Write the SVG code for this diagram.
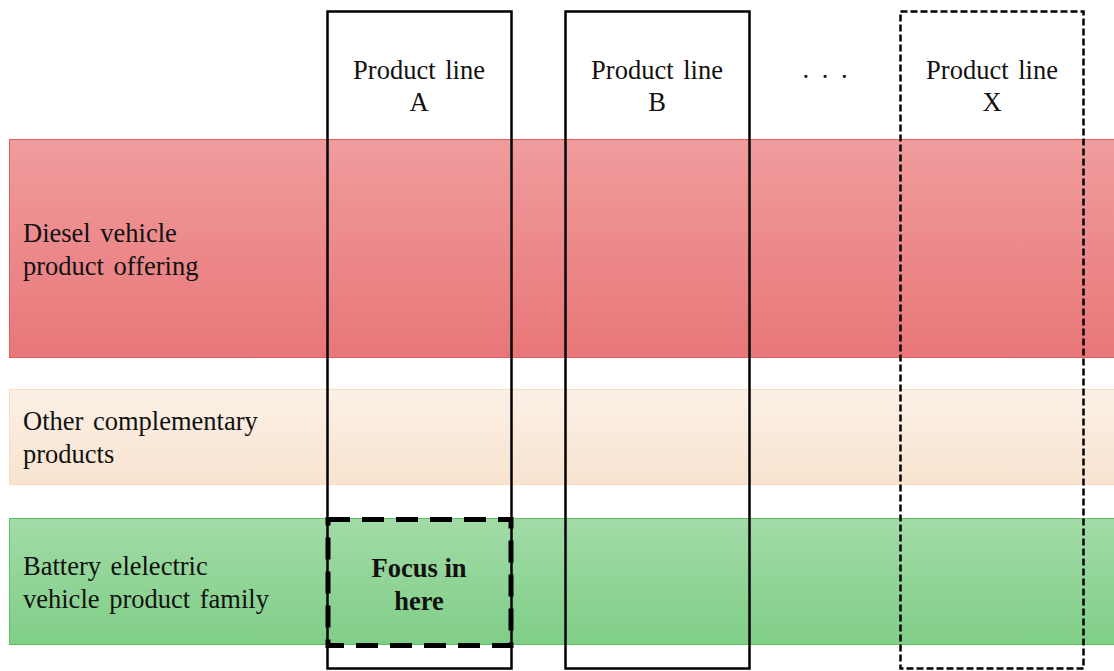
<svg xmlns="http://www.w3.org/2000/svg" width="1114" height="671" viewBox="0 0 1114 671">
  <defs>
    <linearGradient id="gRed" x1="0" y1="0" x2="0" y2="1">
      <stop offset="0" stop-color="#F09C9D"/>
      <stop offset="1" stop-color="#E87678"/>
    </linearGradient>
    <linearGradient id="gBeige" x1="0" y1="0" x2="0" y2="1">
      <stop offset="0" stop-color="#FBF0E6"/>
      <stop offset="1" stop-color="#F8E3CF"/>
    </linearGradient>
    <linearGradient id="gGreen" x1="0" y1="0" x2="0" y2="1">
      <stop offset="0" stop-color="#A2DBA7"/>
      <stop offset="1" stop-color="#80CE87"/>
    </linearGradient>
  </defs>
  <style>
    text { font-family: "Liberation Serif", "Times New Roman", serif; font-size: 26.5px; fill: #111; word-spacing: 3px; }
    .mid { text-anchor: middle; }
    .bold { font-weight: bold; word-spacing: 0; }
    .col { fill: none; stroke: #000; stroke-width: 2.5; }
    .colDash { fill: none; stroke: #000; stroke-width: 2.5; stroke-dasharray: 7 3; }
    .focus { fill: none; stroke: #000; stroke-width: 5; stroke-dasharray: 22 12; }
  </style>

  <!-- horizontal bands -->
  <g id="band-diesel">
    <rect x="9.5" y="139.5" width="1110" height="218" fill="url(#gRed)" stroke="#E05F64" stroke-width="1"/>
    <text x="23" y="242">Diesel vehicle</text>
    <text x="23" y="275">product offering</text>
  </g>
  <g id="band-other">
    <rect x="9.5" y="389.5" width="1110" height="95" fill="url(#gBeige)" stroke="#F6DCC0" stroke-width="1"/>
    <text x="23" y="430">Other complementary</text>
    <text x="23" y="463">products</text>
  </g>
  <g id="band-bev">
    <rect x="9.5" y="518.5" width="1110" height="126" fill="url(#gGreen)" stroke="#5CC260" stroke-width="1"/>
    <text x="23" y="575">Battery elelectric</text>
    <text x="23" y="608">vehicle product family</text>
  </g>

  <!-- product line columns -->
  <g id="col-a">
    <rect class="col" x="327.5" y="11.5" width="184" height="657"/>
    <text class="mid" x="419" y="79">Product line</text>
    <text class="mid" x="419" y="111">A</text>
  </g>
  <g id="col-b">
    <rect class="col" x="565.5" y="11.5" width="184" height="657"/>
    <text class="mid" x="657" y="79">Product line</text>
    <text class="mid" x="657" y="111">B</text>
  </g>
  <g id="ellipsis">
    <text class="mid" x="825" y="78" style="word-spacing:6px">. . .</text>
  </g>
  <g id="col-x">
    <rect class="colDash" x="900.5" y="11.5" width="183" height="657"/>
    <text class="mid" x="992" y="79">Product line</text>
    <text class="mid" x="992" y="111">X</text>
  </g>

  <!-- focus area -->
  <g id="focus">
    <rect class="focus" x="328" y="519.5" width="183" height="126"/>
    <text class="mid bold" x="419" y="577">Focus in</text>
    <text class="mid bold" x="419" y="610">here</text>
  </g>
</svg>
